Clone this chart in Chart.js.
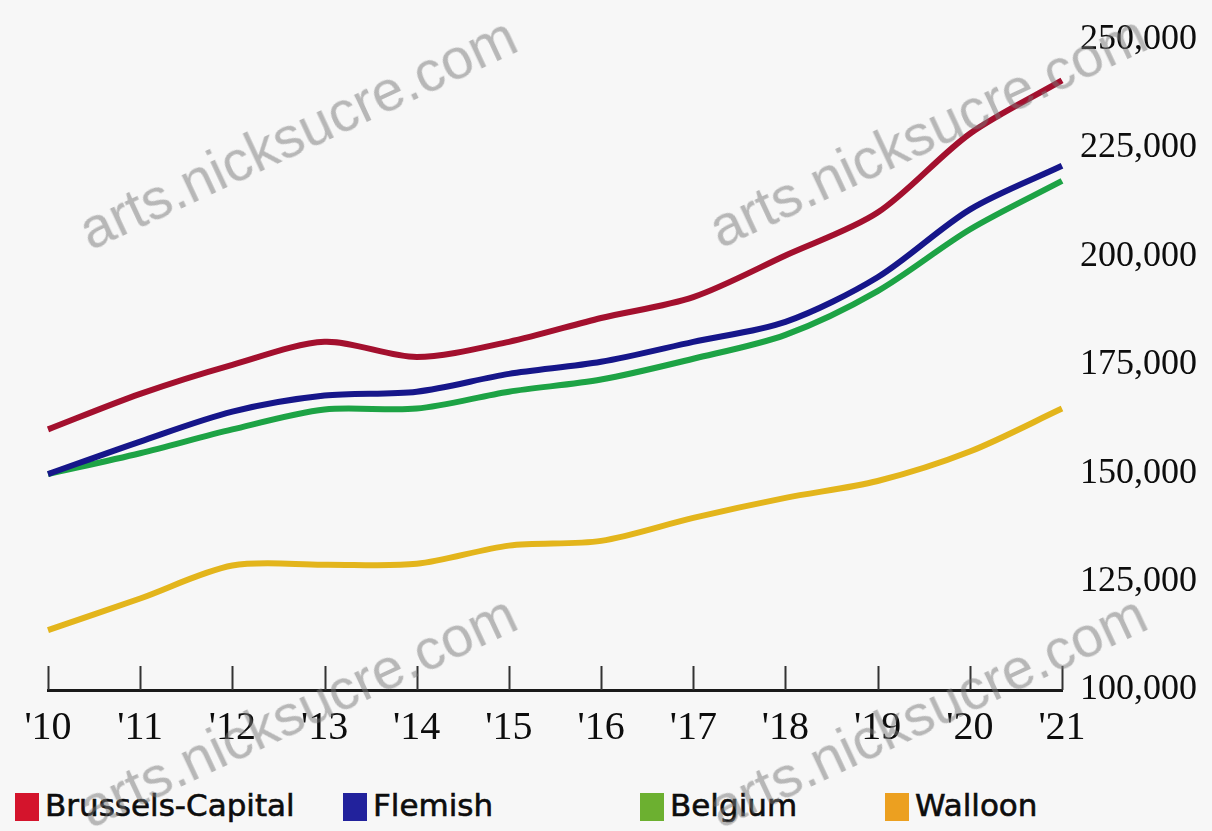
<!DOCTYPE html>
<html>
<head>
<meta charset="utf-8">
<script src="https://cdn.jsdelivr.net/npm/chart.js@4.4.1/dist/chart.umd.min.js"></script>
<style>
    html, body { margin: 0; padding: 0; background: #f7f7f7; }
    #wrap { position: relative; width: 1212px; height: 831px; overflow: hidden; }
    #box { position: absolute; left: 0; top: 0; width: 1212px; height: 770px; }
    .chart-legend { position: absolute; top: 788px; left: 0; width: 1212px; height: 40px; margin: 0; padding: 0; list-style: none; }
    .chart-legend li { position: absolute; top: 0; font: 31px "DejaVu Sans", sans-serif; color: #0d0d0d; white-space: nowrap; line-height: 34px; -webkit-text-stroke: 0.6px #0d0d0d; }
    .chart-legend li span { display: inline-block; width: 24px; height: 28px; vertical-align: -5px; margin-right: 6px; }
    .wm { position: absolute; font: 57px "Liberation Sans", Arial, sans-serif; color: rgba(120, 120, 120, 0.5); white-space: nowrap; line-height: 58px; transform-origin: 0 48px; transform: rotate(-25deg); pointer-events: none; }
</style>
</head>
<body>
<div id="wrap">
    <div id="box"><canvas id="lineChart"></canvas></div>
    <ul class="chart-legend"></ul>
    <div class="wm" style="left:90px; top:202px;">arts.nicksucre.com</div>
    <div class="wm" style="left:720px; top:200px;">arts.nicksucre.com</div>
    <div class="wm" style="left:90px; top:780px;">arts.nicksucre.com</div>
    <div class="wm" style="left:720px; top:780px;">arts.nicksucre.com</div>
</div>
<script>
// Dữ liệu
var years = ["'10", "'11", "'12", "'13", "'14", "'15", "'16", "'17", "'18", "'19", "'20", "'21"];
var yTicks = [100000, 125000, 150000, 175000, 200000, 225000, 250000];
var seriesNames = ['Brussels-Capital', 'Flemish', 'Belgium', 'Walloon'];
var brussels = [160100, 168300, 175000, 180300, 176800, 180300, 185800, 190600, 200200, 210100, 228300, 240600];
var flemish = [149800, 157300, 164200, 167900, 168800, 172900, 175700, 180300, 184900, 195200, 210800, 220900];
var belgium = [149800, 154600, 160100, 164700, 164900, 168800, 171600, 176400, 181900, 192000, 206200, 217400];
var walloon = [113800, 121100, 128700, 128900, 129100, 133300, 134400, 139700, 144300, 148200, 155000, 164900];

var lineColors = ['#a3102e', '#16168a', '#1da345', '#e3b51c'];
var boxColors = ['#d4142c', '#22229c', '#6cb030', '#eca020'];
var legendLeft = [15, 343, 640, 885];

// Vạch chia trục x vẽ hướng vào trong
var innerTicks = {
    id: 'innerTicks',
    afterDatasetsDraw: function (chart) {
        var ctx = chart.ctx;
        var x = chart.scales.x;
        var bottom = chart.chartArea.bottom;
        ctx.save();
        ctx.strokeStyle = '#333';
        ctx.lineWidth = 2;
        for (var i = 0; i < years.length; i++) {
            var px = Math.round(x.getPixelForTick(i)) + 0.5;
            ctx.beginPath();
            ctx.moveTo(px, bottom - 24);
            ctx.lineTo(px, bottom);
            ctx.stroke();
        }
        ctx.restore();
    }
};

var allData = [brussels, flemish, belgium, walloon];
var datasets = allData.map(function (d, i) {
    return {
        label: seriesNames[i],
        data: d,
        borderColor: lineColors[i],
        backgroundColor: boxColors[i],
        borderWidth: 6,
        pointRadius: 0,
        tension: 0.3,
        fill: false
    };
});

var lineChart = new Chart(document.getElementById('lineChart').getContext('2d'), {
    type: 'line',
    data: { labels: years, datasets: datasets },
    options: {
        responsive: true,
        maintainAspectRatio: false,
        animation: false,
        layout: { padding: { left: 48, top: 37, right: 0, bottom: 0 } },
        plugins: {
            legend: { display: false },
            tooltip: { enabled: false }
        },
        scales: {
            x: {
                type: 'category',
                offset: false,
                afterFit: function (scale) { scale.height = 80; },
                grid: { display: false, drawTicks: false },
                border: { display: true, color: '#1a1a1a', width: 3 },
                ticks: {
                    color: '#0d0d0d',
                    font: { family: '"Liberation Serif", serif', size: 40 },
                    padding: 14,
                    maxRotation: 0,
                    autoSkip: false
                }
            },
            y: {
                position: 'right',
                min: 100000,
                max: 250000,
                afterFit: function (scale) { scale.width = 150; },
                afterBuildTicks: function (scale) {
                    scale.ticks = yTicks.map(function (v) { return { value: v }; });
                },
                grid: { display: false, drawTicks: false },
                border: { display: false },
                ticks: {
                    color: '#0d0d0d',
                    font: { family: '"Liberation Serif", serif', size: 36 },
                    padding: 18,
                    callback: function (v) { return v.toLocaleString('en-US'); }
                }
            }
        }
    },
    plugins: [innerTicks]
});

// Chú thích
var legendEl = document.querySelector('.chart-legend');
seriesNames.forEach(function (name, i) {
    var li = document.createElement('li');
    li.style.left = legendLeft[i] + 'px';
    li.innerHTML = '<span style="background-color: ' + boxColors[i] + ';"></span>' + name;
    legendEl.appendChild(li);
});
</script>
</body>
</html>
